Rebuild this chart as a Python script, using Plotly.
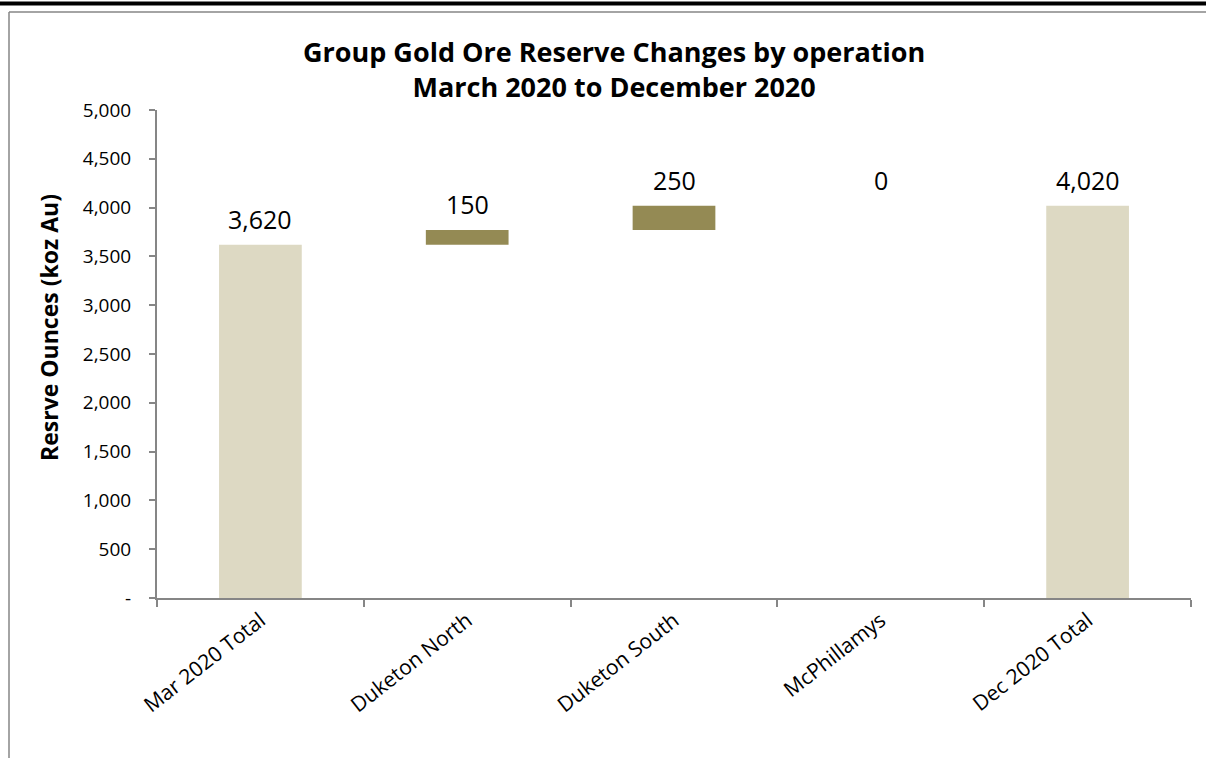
import plotly.graph_objects as go

categories = ["Mar 2020 Total", "Duketon North", "Duketon South", "McPhillamys", "Dec 2020 Total"]
start_total = 3620
changes = [150, 250, 0]
end_total = 4020
measures = ["absolute", "relative", "relative", "relative", "total"]
values = [start_total] + changes + [end_total]
yticks = [0, 500, 1000, 1500, 2000, 2500, 3000, 3500, 4000, 4500, 5000]
yticklabels = ["-"] + [f"{v:,}" for v in yticks[1:]]

FONT = "Open Sans"
BEIGE = "#DDD9C3"
OLIVE = "#948A54"
AXIS = "#868686"

fig = go.Figure()
fig.add_trace(go.Waterfall(
    x=categories,
    y=values,
    measure=measures,
    width=0.4,
    connector=dict(visible=False),
    totals=dict(marker=dict(color=BEIGE, line=dict(width=0))),
    increasing=dict(marker=dict(color=OLIVE, line=dict(width=0))),
    decreasing=dict(marker=dict(color=OLIVE, line=dict(width=0))),
    hoverinfo="skip",
    showlegend=False,
))

# data labels above bar tops
tops = []
run = 0
for m, v in zip(measures, values):
    if m == "absolute":
        run = v
    elif m == "relative":
        run += v
    tops.append(run)

annotations = []
for c, m, v, t in zip(categories, measures, values, tops):
    label = f"{(t if m != 'relative' else v):,}"
    annotations.append(dict(x=c, y=t, xref="x", yref="y", text=label, showarrow=False,
                            yshift=26, yanchor="middle",
                            font=dict(family=FONT, size=25, color="black")))

L, R, T, B = 157, 15, 110, 160
W, H = 1206, 758
pw, ph = W - L - R, H - T - B

def px(xp):
    return (xp - L) / pw

def py(yp):
    return (H - B - yp) / ph

annotations.append(dict(x=px(614), y=py(69), xref="paper", yref="paper",
                        text="<b>Group Gold Ore Reserve Changes by operation<br>March 2020 to December 2020</b>",
                        showarrow=False, xanchor="center", yanchor="middle",
                        font=dict(family=FONT, size=27, color="black")))
annotations.append(dict(x=px(49), y=py(328), xref="paper", yref="paper",
                        text="<b>Resrve Ounces (koz Au)</b>", textangle=-90,
                        showarrow=False, xanchor="center", yanchor="middle",
                        font=dict(family=FONT, size=23, color="black")))

shapes = [
    dict(type="line", xref="paper", yref="paper", x0=px(0), x1=px(W), y0=py(3.5), y1=py(3.5),
         line=dict(color="black", width=4)),
    dict(type="line", xref="paper", yref="paper", x0=px(9), x1=px(W), y0=py(12), y1=py(12),
         line=dict(color=AXIS, width=1.5)),
    dict(type="line", xref="paper", yref="paper", x0=px(9), x1=px(9), y0=py(12), y1=py(H),
         line=dict(color=AXIS, width=1.5)),
]

fig.update_layout(
    width=W, height=H,
    margin=dict(l=L, r=R, t=T, b=B),
    paper_bgcolor="white", plot_bgcolor="white",
    font=dict(family=FONT, color="black"),
    annotations=annotations,
    shapes=shapes,
    xaxis=dict(
        showgrid=False, zeroline=False,
        showline=True, linecolor=AXIS, linewidth=2,
        ticks="outside", ticklen=7, tickcolor=AXIS, tickwidth=2,
        tickson="boundaries",
        tickangle=-38,
        tickfont=dict(family=FONT, size=21, color="black"),
    ),
    yaxis=dict(
        range=[0, 5000],
        showgrid=False, zeroline=False,
        showline=True, linecolor=AXIS, linewidth=2,
        ticks="outside", ticklen=6, tickcolor=AXIS, tickwidth=2,
        tickvals=yticks, ticktext=yticklabels,
        tickfont=dict(family=FONT, size=19, color="black"),
        ticklabelstandoff=14,
    ),
)

fig.write_html("out.html")
